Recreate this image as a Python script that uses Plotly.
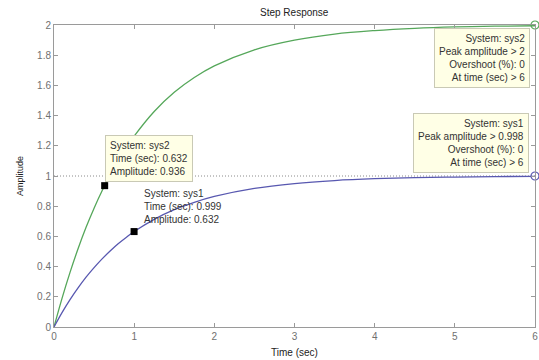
import plotly.graph_objects as go

# Step response samples (time in seconds)
t = [0, 0.1, 0.2, 0.3, 0.4, 0.5, 0.6, 0.7, 0.8, 0.9, 1.0, 1.25, 1.5, 1.75,
     2.0, 2.5, 3.0, 3.5, 4.0, 4.5, 5.0, 5.5, 6.0]
sys1 = [0, 0.095, 0.181, 0.259, 0.330, 0.393, 0.451, 0.503, 0.551, 0.593,
        0.632, 0.713, 0.777, 0.826, 0.865, 0.918, 0.950, 0.970, 0.982,
        0.989, 0.993, 0.996, 0.998]
sys2 = [0, 0.19, 0.362, 0.518, 0.660, 0.787, 0.902, 1.007, 1.101, 1.187,
        1.264, 1.427, 1.554, 1.652, 1.729, 1.836, 1.900, 1.940, 1.963,
        1.978, 1.987, 1.992, 1.995]

# Data-tip points
tip_t = [0.632, 0.999]
tip_amp = [0.936, 0.632]
# Steady-state markers at the end of the time window
end_t = [6, 6]
end_amp = [2, 1]

GREEN = "#55a75a"
BLUE = "#5858b0"
FONT = "Arial, Liberation Sans, sans-serif"

fig = go.Figure()
fig.add_trace(go.Scatter(x=[0, 6], y=[1, 1], mode="lines",
                         line=dict(color="#8a8a8a", width=1, dash="1px,2px"),
                         hoverinfo="skip"))
fig.add_trace(go.Scatter(x=t, y=sys2, mode="lines", name="sys2",
                         line=dict(color=GREEN, width=1.3, shape="spline")))
fig.add_trace(go.Scatter(x=t, y=sys1, mode="lines", name="sys1",
                         line=dict(color=BLUE, width=1.3, shape="spline")))
fig.add_trace(go.Scatter(x=end_t, y=end_amp, mode="markers", cliponaxis=False,
                         marker=dict(symbol="circle-open", size=8,
                                     color=[GREEN, BLUE], line=dict(width=1.2))))
fig.add_trace(go.Scatter(x=tip_t, y=tip_amp, mode="markers", cliponaxis=False,
                         marker=dict(symbol="square", size=7, color="black")))

box = dict(bgcolor="#ffffe6", bordercolor="#c9c9b5", borderwidth=1,
           borderpad=4, showarrow=False, font=dict(family=FONT, size=10, color="#333333"))

annotations = [
    dict(x=tip_t[0], y=0.96, xref="x", yref="y", xanchor="left", yanchor="bottom",
         align="left",
         text=f"System: sys2<br>Time (sec): {tip_t[0]:.3f}<br>Amplitude: {tip_amp[0]:.3f}",
         **box),
    dict(x=1.1, y=0.935, xref="x", yref="y", xanchor="left", yanchor="top",
         align="left", showarrow=False,
         font=dict(family=FONT, size=10, color="#333333"),
         text=f"System: sys1<br>Time (sec): {tip_t[1]:.3f}<br>Amplitude: {tip_amp[1]:.3f}"),
    dict(x=5.94, y=1.98, xref="x", yref="y", xanchor="right", yanchor="top",
         align="right",
         text="System: sys2<br>Peak amplitude &gt; 2<br>Overshoot (%): 0<br>At time (sec) &gt; 6",
         **box),
    dict(x=5.93, y=1.417, xref="x", yref="y", xanchor="right", yanchor="top",
         align="right",
         text="System: sys1<br>Peak amplitude &gt; 0.998<br>Overshoot (%): 0<br>At time (sec) &gt; 6",
         **box),
    dict(x=0.5, y=1, xref="paper", yref="paper", yshift=13, xanchor="center",
         yanchor="middle", showarrow=False, text="Step Response",
         font=dict(family=FONT, size=10, color="#222222")),
    dict(x=0.5, y=0, xref="paper", yref="paper", yshift=-25, xanchor="center",
         yanchor="middle", showarrow=False, text="Time (sec)",
         font=dict(family=FONT, size=10, color="#222222")),
    dict(x=0, y=0.5, xref="paper", yref="paper", xshift=-34, xanchor="center",
         yanchor="middle", showarrow=False, text="Amplitude", textangle=-90,
         font=dict(family=FONT, size=9, color="#222222")),
]

axis_common = dict(showgrid=False, zeroline=False, showline=True, mirror="ticks",
                   linecolor="#9a9a9a", linewidth=1, ticks="inside", ticklen=4,
                   tickcolor="#9a9a9a", ticklabeloverflow="allow",
                   tickfont=dict(family=FONT, size=10, color="#707070"))

fig.update_layout(
    width=539, height=360,
    margin=dict(l=54, r=1, t=25, b=33),
    paper_bgcolor="white", plot_bgcolor="white",
    showlegend=False,
    annotations=annotations,
    xaxis=dict(range=[0, 6], tickvals=[0, 1, 2, 3, 4, 5, 6], **axis_common),
    yaxis=dict(range=[0, 2], tickvals=[0, 0.2, 0.4, 0.6, 0.8, 1, 1.2, 1.4, 1.6, 1.8, 2],
               ticktext=["0", "0.2", "0.4", "0.6", "0.8", "1", "1.2", "1.4", "1.6", "1.8", "2"],
               **axis_common),
)

fig.write_html("out.html")
